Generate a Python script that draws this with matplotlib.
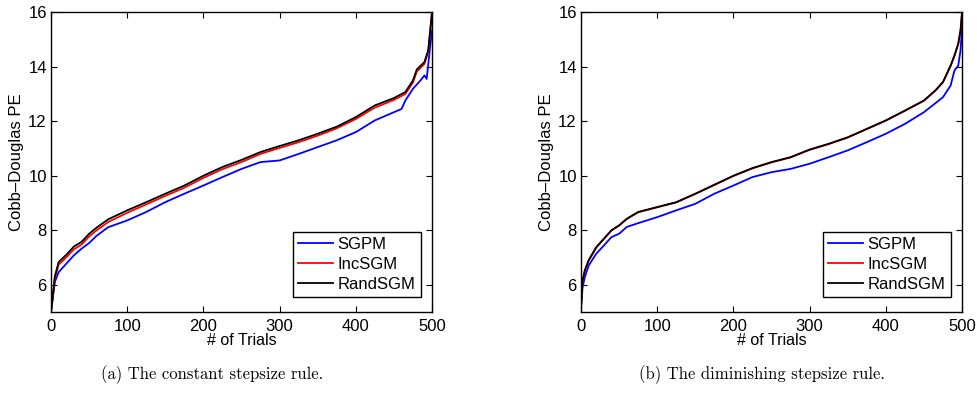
import matplotlib
matplotlib.use('Agg')
import matplotlib.pyplot as plt
import numpy as np

plt.rcParams['font.family'] = ['Liberation Sans', 'DejaVu Sans']

# sample points (trial index)
trials_a = [0, 2, 5, 10, 20, 30, 40, 50, 60, 75, 100, 125, 150, 175, 200, 225, 250,
            275, 300, 325, 350, 375, 400, 425, 450, 465, 475, 480, 490, 495, 498, 500]
rand_a = [5.0, 5.5, 6.3, 6.83, 7.1, 7.4, 7.57, 7.87, 8.1, 8.4, 8.73, 9.03, 9.34, 9.64,
          10.0, 10.32, 10.58, 10.87, 11.09, 11.3, 11.54, 11.8, 12.15, 12.58, 12.85,
          13.07, 13.5, 13.9, 14.17, 14.6, 15.45, 16.0]
inc_a = [5.0, 5.45, 6.22, 6.74, 7.0, 7.3, 7.47, 7.77, 8.0, 8.3, 8.64, 8.95, 9.26, 9.56,
         9.92, 10.24, 10.5, 10.8, 11.02, 11.23, 11.47, 11.74, 12.08, 12.5, 12.78,
         13.0, 13.42, 13.82, 14.1, 14.55, 15.4, 16.0]
trials_a_sg = [0, 5, 10, 20, 30, 40, 50, 60, 75, 100, 125, 150, 175, 200, 225, 250, 275,
               300, 325, 350, 375, 400, 425, 450, 460, 465, 475, 485, 490, 493, 497, 500]
sgpm_a = [5.0, 6.1, 6.46, 6.77, 7.08, 7.32, 7.53, 7.8, 8.11, 8.36, 8.67, 9.03, 9.34,
          9.64, 9.95, 10.25, 10.5, 10.56, 10.8, 11.05, 11.3, 11.6, 12.03, 12.33, 12.45,
          12.76, 13.19, 13.5, 13.68, 13.55, 14.6, 15.33]

trials_b = [0, 2, 5, 10, 20, 30, 40, 50, 60, 75, 100, 125, 150, 175, 200, 225, 250,
            275, 300, 325, 350, 375, 400, 425, 450, 465, 475, 485, 490, 495, 498, 500]
rand_b = [5.2, 6.15, 6.53, 6.9, 7.38, 7.69, 8.0, 8.18, 8.42, 8.67, 8.85, 9.03, 9.34,
          9.67, 10.0, 10.28, 10.5, 10.68, 10.96, 11.17, 11.41, 11.72, 12.03, 12.39,
          12.76, 13.13, 13.44, 14.04, 14.41, 14.84, 15.33, 16.0]
inc_b = [5.2, 6.13, 6.51, 6.88, 7.36, 7.68, 7.99, 8.17, 8.41, 8.66, 8.84, 9.02, 9.33,
         9.66, 9.99, 10.27, 10.49, 10.67, 10.95, 11.16, 11.4, 11.71, 12.02, 12.38,
         12.75, 13.12, 13.43, 14.03, 14.4, 14.83, 15.32, 16.0]
trials_b_sg = [0, 2, 5, 10, 20, 30, 40, 50, 60, 75, 100, 125, 150, 175, 200, 225, 250,
               275, 300, 325, 350, 375, 400, 425, 450, 475, 485, 490, 495, 498, 500]
sgpm_b = [5.1, 5.9, 6.28, 6.7, 7.14, 7.44, 7.75, 7.87, 8.12, 8.26, 8.48, 8.73, 8.97,
          9.34, 9.64, 9.95, 10.13, 10.25, 10.44, 10.68, 10.93, 11.23, 11.54, 11.9,
          12.33, 12.88, 13.31, 13.86, 14.04, 14.6, 15.4]

captions = ['(a) The constant stepsize rule.', '(b) The diminishing stepsize rule.']

fig = plt.figure(figsize=(9.77, 4.03), dpi=100)
ax1 = fig.add_axes([0.0522, 0.2258, 0.39, 0.744])
ax2 = fig.add_axes([0.5947, 0.2258, 0.39, 0.744])

panels = [(ax1, trials_a_sg, sgpm_a, trials_a, inc_a, rand_a),
          (ax2, trials_b_sg, sgpm_b, trials_b, inc_b, rand_b)]

for ax, ts, sg, t, inc, rnd in panels:
    ax.plot(ts, sg, color='#0000ff', lw=1.3, label='SGPM')
    ax.plot(t, inc, color='#ff0000', lw=1.3, label='IncSGM')
    ax.plot(t, rnd, color='black', lw=1.3, label='RandSGM')
    ax.set_xlim(0, 500)
    ax.set_ylim(5, 16)
    ax.set_xticks([0, 100, 200, 300, 400, 500])
    ax.set_yticks([6, 8, 10, 12, 14, 16])
    ax.tick_params(direction='in', top=True, right=True, labelsize=12, length=4,
                   width=0.8)
    ax.tick_params(axis='x', pad=5)
    ax.tick_params(axis='y', pad=3)
    for s in ax.spines.values():
        s.set_linewidth(1.0)
    ax.set_xlabel('# of Trials', fontsize=11.5, labelpad=-1)
    ax.set_ylabel('Cobb\u2013Douglas PE', fontsize=12, labelpad=3)
    leg = ax.legend(loc='lower right', bbox_to_anchor=(0.97, 0.05), fontsize=12,
                    fancybox=False, framealpha=1, edgecolor='black',
                    handlelength=2.1, labelspacing=0.3, borderpad=0.3,
                    handletextpad=0.3, borderaxespad=0)
    leg.get_frame().set_linewidth(1.0)

fig.text(0.217, 0.07, captions[0], fontsize=12, family='cmr10', ha='center', va='center')
fig.text(0.78, 0.07, captions[1], fontsize=12, family='cmr10', ha='center', va='center')

plt.savefig('out.png', dpi=100)
